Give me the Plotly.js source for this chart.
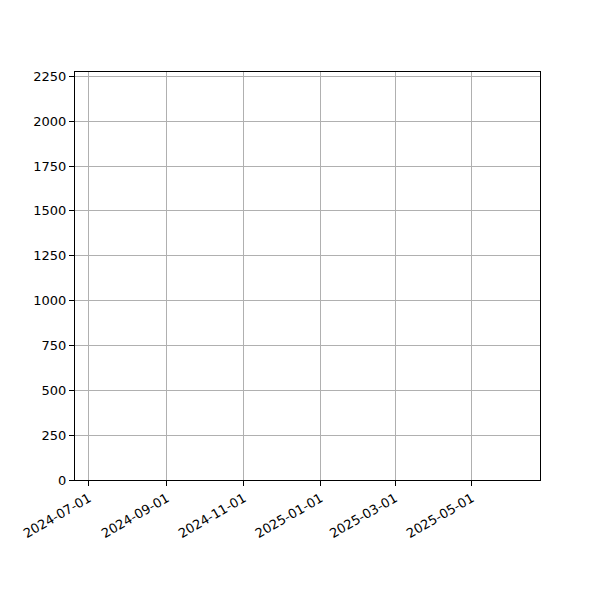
<!DOCTYPE html>
<html>
<head>
<meta charset="utf-8">
<script src="https://cdn.plot.ly/plotly-3.0.1.min.js"></script>
<style>
  html, body { margin: 0; padding: 0; background: #fff; }
  #chart { width: 600px; height: 600px; }
</style>
</head>
<body>
<div id="chart"></div>
<script>
// the reference shows empty axes: no marks, only the frame and grid
const dates = [];
const values = [];

const xRange = ["2024-06-20", "2025-06-24"];
const yRange = [0, 2274];
const xTicks = ["2024-07-01", "2024-09-01", "2024-11-01", "2025-01-01", "2025-03-01", "2025-05-01"];
const yTicks = [0, 250, 500, 750, 1000, 1250, 1500, 1750, 2000, 2250];

const axisBase = {
  showline: true,
  linecolor: "#000",
  linewidth: 1,
  mirror: true,
  ticks: "outside",
  ticklen: 5,
  tickwidth: 1,
  tickcolor: "#000",
  showgrid: true,
  gridcolor: "#b0b0b0",
  gridwidth: 1,
  zeroline: false,
  tickfont: { family: "DejaVu Sans", size: 13, color: "#000" },
};

const traces = [
  { x: dates, y: values, type: "scatter", mode: "lines", line: { color: "#1f77b4" }, showlegend: false },
];

const layout = {
  width: 600,
  height: 600,
  paper_bgcolor: "#fff",
  plot_bgcolor: "#fff",
  margin: { l: 75, r: 60, t: 72, b: 120 },
  showlegend: false,
  xaxis: {
    ...axisBase,
    type: "date",
    range: xRange,
    tickmode: "array",
    tickvals: xTicks,
    ticktext: xTicks,
    tickangle: -30,
  },
  yaxis: {
    ...axisBase,
    range: yRange,
    tickmode: "array",
    tickvals: yTicks,
    ticktext: yTicks.map(String),
  },
};

Plotly.newPlot("chart", traces, layout, { displayModeBar: false, staticPlot: true });
</script>
</body>
</html>
